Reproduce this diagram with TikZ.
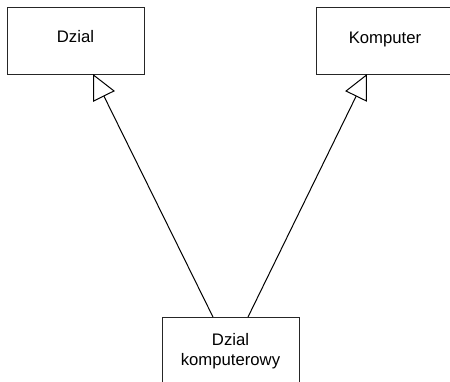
\documentclass[tikz,border=0pt]{standalone}
\usepackage{fontspec}
\setmainfont{Liberation Sans}
\usetikzlibrary{arrows.meta}
\begin{document}
\begin{tikzpicture}[x=1pt,y=-1pt,
  classbox/.style={draw=black!85, line width=1.3pt, minimum width=137pt, minimum height=67pt, inner sep=0pt, anchor=north west},
  lbl/.style={font=\fontsize{16.7}{20}\selectfont, inner sep=0pt, anchor=base},
  gen/.style={draw=black, line width=1pt, -{Triangle[open, length=25pt, width=24pt]}}]
\useasboundingbox (0,0) rectangle (450,381);
\clip (0,0) rectangle (450,381);
\fill[white] (0,0) rectangle (450,381);
\node[classbox] (dz) at (7,7) {};
\node[classbox] (ko) at (316,7) {};
\node[classbox] (dk) at (162,317) {};
\node[lbl] (dzt) at (75.5,42) {Dzial};
\node[lbl] (kot) at (385,43) {Komputer};
\node[lbl] (dkt1) at (230.5,345) {Dzial};
\node[lbl] (dkt2) at (230.5,365) {komputerowy};
\coordinate (s1) at (213,317);
\coordinate (s2) at (248,317);
\coordinate (t1) at (93,74);
\coordinate (t2) at (367,74);
\draw[gen] (s1) -- (t1);
\draw[gen] (s2) -- (t2);
\end{tikzpicture}
\end{document}
